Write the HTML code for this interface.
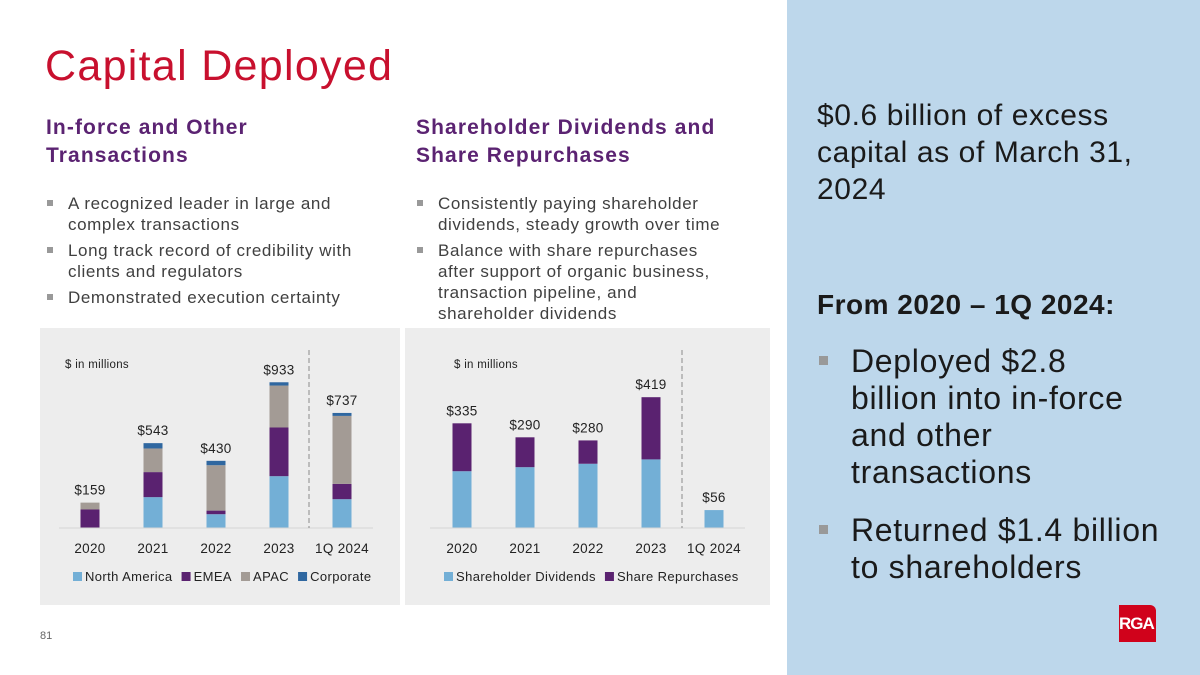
<!DOCTYPE html>
<html><head><meta charset="utf-8"><style>
body{margin:0;width:1200px;height:675px;overflow:hidden;background:#fff;font-family:"Liberation Sans",sans-serif;position:relative}
.abs{position:absolute}
#title{left:45px;top:42px;font-size:43px;color:#c8102e;white-space:nowrap;letter-spacing:1.3px}
.h{font-size:21px;font-weight:bold;color:#5b2372;line-height:28px;letter-spacing:1.1px;white-space:nowrap}
.b{font-size:17px;color:#404040;line-height:21px;letter-spacing:0.6px;white-space:nowrap}
.b div{position:relative;padding-left:22px;margin-bottom:5px}
.b div:before{content:"";position:absolute;left:1px;top:7px;width:6px;height:6px;background:#999}
#side{left:787px;top:0;width:413px;height:675px;background:#bdd7eb}
.s{font-size:30px;color:#1a1a1a;line-height:37px;letter-spacing:0.6px;white-space:nowrap}
.sb div{position:relative;padding-left:34px;font-size:32px;line-height:37px;color:#1a1a1a;margin-bottom:21px;letter-spacing:0.7px;white-space:nowrap}
.sb div:before{content:"";position:absolute;left:2px;top:13px;width:9px;height:9px;background:#999}
</style></head><body>
<div id="side" class="abs"></div>
<div id="title" class="abs">Capital Deployed</div>
<div class="abs h" style="left:46px;top:114px">In-force and Other<br>Transactions</div>
<div class="abs h" style="left:416px;top:114px">Shareholder Dividends and<br>Share Repurchases</div>
<div class="abs b" style="left:46px;top:193px;width:350px">
<div>A recognized leader in large and<br>complex transactions</div>
<div>Long track record of credibility with<br>clients and regulators</div>
<div>Demonstrated execution certainty</div></div>
<div class="abs b" style="left:416px;top:193px;width:340px">
<div>Consistently paying shareholder<br>dividends, steady growth over time</div>
<div style="line-height:21px">Balance with share repurchases<br>after support of organic business,<br>transaction pipeline, and<br>shareholder dividends</div></div>
<div class="abs s" style="left:817px;top:97px;width:370px">$0.6 billion of excess<br>capital as of March 31,<br>2024</div>
<div class="abs" style="left:817px;top:289px;font-size:28px;font-weight:bold;color:#1a1a1a;letter-spacing:0.5px">From 2020 – 1Q 2024:</div>
<div class="abs sb" style="left:817px;top:343px;width:370px">
<div>Deployed $2.8<br>billion into in-force<br>and other<br>transactions</div>
<div>Returned $1.4 billion<br>to shareholders</div></div>
<div class="abs" style="left:1119px;top:605px;width:37px;height:37px;background:#d0021b;border-top-right-radius:6px"><span style="position:absolute;left:0;top:9px;font-size:17px;font-weight:bold;color:#fff;letter-spacing:-1px">RGA</span></div>
<div class="abs" style="left:40px;top:630px;font-size:11px;color:#666">81</div>
<svg class="abs" style="left:0;top:0" width="787" height="675" id="charts"></svg>
<script>
const leftCats=["2020","2021","2022","2023","1Q 2024"];
const naVals=[0,194,85,328,181];
const emeaVals=[115,160,23,311,98];
const apacVals=[44,151,290,268,434];
const corpVals=[0,34,28,21,19];
const leftTotals=["$159","$543","$430","$933","$737"];
const rightCats=["2020","2021","2022","2023","1Q 2024"];
const divVals=[181,194,205,219,56];
const repVals=[154,96,75,200,0];
const rightTotals=["$335","$290","$280","$419","$56"];
const NS="http://www.w3.org/2000/svg";
const svg=document.getElementById('charts');
function mk(t,a,p){const e=document.createElementNS(NS,t);for(const k in a)e.setAttribute(k,a[k]);(p||svg).appendChild(e);return e;}
function chart(o){
 const g=mk('g',{});
 
 
 const bg=mk('rect',{x:o.x0,y:328,width:o.w,height:277,fill:'#ededed'},g);
 
 
 const base=527.5;
 const xPos=i=>o.c0+i*63;
 const yS=v=>v*o.scale;
 const bl=mk('line',{x1:o.b1,x2:o.b2,y1:base+0.5,y2:base+0.5,stroke:'#d5d5d5','stroke-width':1},g);
 
 
 const dl=mk('line',{x1:o.dash,x2:o.dash,y1:350,y2:528,stroke:'#8a8a8a','stroke-dasharray':'5,3','stroke-width':1},g);
 
 
 const un=mk('text',{x:o.ux,y:368,'font-size':11.5,fill:'#222','letter-spacing':0.3},g);un.textContent='$ in millions';
 
 
 o.cats.forEach((c,i)=>{
  let y=base;
  o.series.forEach((s,si)=>{
   const h=yS(s.vals[i]);
   if(h<=0)return;
   y-=h;
   const r=mk('rect',{x:xPos(i)-9.5,y:y,width:19,height:h,fill:s.color},g);
   
   
  });
  const t=mk('text',{x:xPos(i),y:y-8,'text-anchor':'middle','font-size':13.5,fill:'#222','letter-spacing':0.3},g);t.textContent=o.totals[i];
  
  
  const xl=mk('text',{x:xPos(i),y:553,'text-anchor':'middle','font-size':13.5,fill:'#222','letter-spacing':0.3},g);xl.textContent=c;
  
  
 });
 let lx=o.lx;
 o.series.forEach(s=>{
  const lg=mk('g',{},g);
  
  
  mk('rect',{x:lx,y:572,width:9,height:9,fill:s.color},lg);
  const t=mk('text',{x:lx+12,y:581,'font-size':13,fill:'#222','letter-spacing':0.4},lg);t.textContent=s.label;
  lx+=12+t.getComputedTextLength()+9;
 });
}
chart({name:'capital-deployed-chart',x0:40,w:360,c0:90,scale:0.1565,b1:59,b2:373,dash:309,ux:65,lx:73,cats:leftCats,totals:leftTotals,
 series:[{key:'north-america',label:'North America',color:'#73afd6',vals:naVals},{key:'emea',label:'EMEA',color:'#5a2270',vals:emeaVals},{key:'apac',label:'APAC',color:'#a39b95',vals:apacVals},{key:'corporate',label:'Corporate',color:'#2f67a0',vals:corpVals}]});
chart({name:'shareholder-returns-chart',x0:405,w:365,c0:462,scale:0.311,b1:430,b2:745,dash:682,ux:454,lx:444,cats:rightCats,totals:rightTotals,
 series:[{key:'dividends',label:'Shareholder Dividends',color:'#73afd6',vals:divVals},{key:'repurchases',label:'Share Repurchases',color:'#5a2270',vals:repVals}]});
</script>
</body></html>
